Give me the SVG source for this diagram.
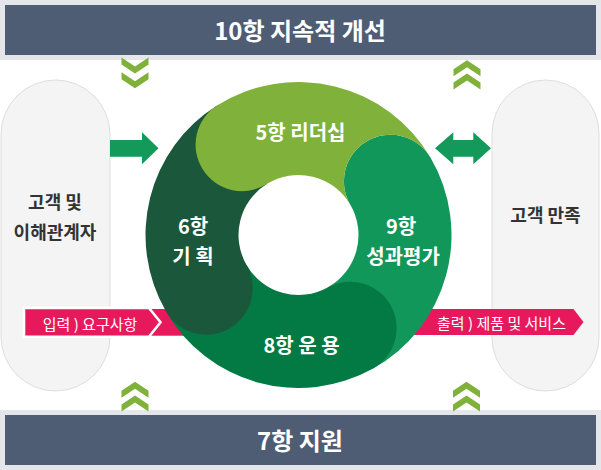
<svg xmlns="http://www.w3.org/2000/svg" width="601" height="470" viewBox="0 0 601 470">
  <style>
    text { font-family: "Noto Sans CJK KR", "Noto Sans", sans-serif; text-anchor: middle; }
    .band { fill: #e4e6e9; }
    .bar { fill: #4e5d74; }
    .bartxt { fill: #ffffff; font-size: 24px; font-weight: 700; }
    .pill { fill: #f4f4f4; stroke: #dedede; stroke-width: 1; }
    .pilltxt { fill: #333333; font-size: 18px; font-weight: 700; }
    .chev { fill: #80b13b; }
    .garrow { fill: #139a5b; }
    .pink { fill: #e8185c; }
    .pinktxt { fill: #ffffff; font-size: 15px; }
    .segtxt { fill: #ffffff; font-size: 20px; font-weight: 700; }
    .c5 { fill: #80b13b; }
    .c6 { fill: #1a573b; }
    .c8 { fill: #037a44; }
    .c9 { fill: #12975a; }
  </style>
  <defs>
    <polygon id="chevDown" points="-13.5,0 0,9 13.5,0 13.5,7 0,16 -13.5,7"/>
    <polygon id="chevUp" points="0,0 13.5,9 13.5,16 0,7 -13.5,16 -13.5,9"/>
  </defs>

  <rect x="0" y="0" width="601" height="470" fill="#ffffff"/>

  <g id="node-improvement">
    <rect class="band" x="0" y="0" width="601" height="60"/>
    <rect class="bar" x="5" y="5" width="591" height="50"/>
    <text class="bartxt" x="300" y="40">10항 지속적 개선</text>
  </g>

  <g id="node-support">
    <rect class="band" x="0" y="410" width="601" height="60"/>
    <rect class="bar" x="5" y="415" width="591" height="50"/>
    <text class="bartxt" x="300" y="450">7항 지원</text>
  </g>

  <g id="node-stakeholders">
    <rect class="pill" x="1" y="80" width="109" height="311" rx="54.5" ry="54.5"/>
    <text class="pilltxt" x="55" y="208.5">고객 및</text>
    <text class="pilltxt" x="55" y="238.5">이해관계자</text>
  </g>

  <g id="node-satisfaction">
    <rect class="pill" x="492" y="80" width="107" height="311" rx="53.5" ry="53.5"/>
    <text class="pilltxt" x="545.5" y="222">고객 만족</text>
  </g>

  <g id="connectors">
    <use href="#chevDown" class="chev" x="135" y="57.5"/>
    <use href="#chevDown" class="chev" x="135" y="72.3"/>
    <use href="#chevUp" class="chev" x="467" y="60.3"/>
    <use href="#chevUp" class="chev" x="467" y="73.5"/>
    <use href="#chevUp" class="chev" x="135" y="381.7"/>
    <use href="#chevUp" class="chev" x="135" y="395.5"/>
    <use href="#chevUp" class="chev" x="466.5" y="381.7"/>
    <use href="#chevUp" class="chev" x="466.5" y="395.5"/>

    <polygon class="garrow" points="110,140 142,140 142,132.3 158.5,148.3 142,164.3 142,156.7 110,156.7"/>
    <polygon class="garrow" points="435,148.3 453.3,132.3 453.3,140 473.3,140 473.3,132.3 491,148.3 473.3,164.3 473.3,156.7 453.3,156.7 453.3,164.3"/>

    <rect class="pink" x="140" y="309" width="80" height="26.7"/>
    <polygon class="pink" points="24,308 149,308 160.5,322.3 149,336.7 24,336.7" stroke="#ffffff" stroke-width="2.6" stroke-linejoin="miter"/>
    <text class="pinktxt" x="90" y="329.5">입력 ) 요구사항</text>

    <polygon class="pink" points="390,309 573.5,309 583.5,322 573.5,335 390,335"/>
    <text class="pinktxt" x="501.5" y="329">출력 ) 제품 및 서비스</text>
  </g>

  <g id="node-evaluation">
    <path class="c9" d="M372.68,368.82 A153,153 0 0 0 430.33,157.35 A46.5,46.5 0 0 0 350.20,204.55 A60,60 0 0 1 327.59,287.48 Z"/>
    <text class="segtxt" x="401" y="233.5">9항</text>
    <text class="segtxt" x="403" y="263.5">성과평가</text>
  </g>

  <g id="node-operation">
    <path class="c8" d="M166.00,311.50 A153,153 0 0 0 372.68,368.82 A46.5,46.5 0 0 0 327.59,287.48 A60,60 0 0 1 246.54,265.00 Z"/>
    <text class="segtxt" x="301.5" y="353">8항 운 용</text>
  </g>

  <g id="node-planning">
    <path class="c6" d="M217.42,105.25 A153,153 0 0 0 166.00,311.50 A46.5,46.5 0 0 0 246.54,265.00 A60,60 0 0 1 266.70,184.12 Z"/>
    <text class="segtxt" x="193" y="233.5">6항</text>
    <text class="segtxt" x="193" y="263.5">기 획</text>
  </g>

  <g id="node-leadership">
    <path class="c5" d="M430.33,157.35 A153,153 0 0 0 217.42,105.25 A46.5,46.5 0 0 0 266.70,184.12 A60,60 0 0 1 350.20,204.55 A46.5,46.5 0 0 1 430.33,157.35 Z"/>
    <text class="segtxt" x="300.5" y="140">5항 리더십</text>
  </g>
</svg>
